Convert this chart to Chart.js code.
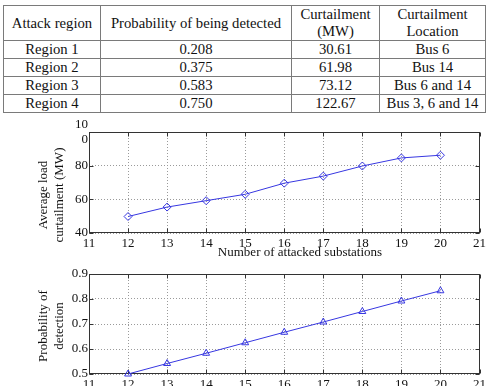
<!DOCTYPE html>
<html><head><meta charset="utf-8">
<script src="https://cdn.jsdelivr.net/npm/chart.js@4/dist/chart.umd.min.js"></script>
<style>
html,body{margin:0;padding:0;background:#fff;width:489px;height:386px;overflow:hidden;}
#tbl{position:absolute;left:3px;top:5px;width:482px;table-layout:fixed;border-collapse:collapse;font-family:"Liberation Serif","Times New Roman",serif;font-size:14.7px;color:#111;}
#tbl td,#tbl th{border:1px solid #7a7a7a;text-align:center;padding:0;font-weight:normal;line-height:17px;white-space:nowrap;overflow:visible;}
#tbl th{height:34px}
#tbl td{height:17px}
#c1{position:absolute;left:0;top:116px}
#c2{position:absolute;left:0;top:262px}
</style></head>
<body>
<table id="tbl"><colgroup><col style="width:97px"><col style="width:191px"><col style="width:88px"><col style="width:106px"></colgroup><thead><tr id="hdr"></tr></thead><tbody id="body"></tbody></table>
<canvas id="c1" width="489" height="146"></canvas>
<canvas id="c2" width="489" height="124"></canvas>
<script>
// ---- table data ----
const tableHeader = [["Attack region"], ["Probability of being detected"], ["Curtailment", "(MW)"], ["Curtailment", "Location"]];
const regions = ["Region 1", "Region 2", "Region 3", "Region 4"];
const detectProbTable = ["0.208", "0.375", "0.583", "0.750"];
const curtailTable = ["30.61", "61.98", "73.12", "122.67"];
const locations = ["Bus 6", "Bus 14", "Bus 6 and 14", "Bus 3, 6 and 14"];

// ---- chart data ----
const substations = [12, 13, 14, 15, 16, 17, 18, 19, 20];
const avgCurtailment = [49.8, 55.4, 59.2, 63.0, 69.6, 73.8, 79.8, 84.6, 86.2];
const detectionProb = [0.5, 0.542, 0.583, 0.625, 0.667, 0.708, 0.75, 0.792, 0.833];
const yTickLabels1 = {40: "40", 60: "60", 80: "80", 100: ["10", "0"]};
const yTickLabels2 = {0.5: "0.5", 0.6: "0.6", 0.7: "0.7", 0.8: "0.8", 0.9: "0.9"};
const xTitle1 = "Number of attacked substations";
const yTitle1 = ["Average load", "curtailment (MW)"];
const yTitle2 = ["Probability of", "detection"];

// build table
const hdr = document.getElementById('hdr');
tableHeader.forEach(h => { const th = document.createElement('th'); th.innerHTML = h.join('<br>'); hdr.appendChild(th); });
const body = document.getElementById('body');
regions.forEach((r, i) => {
  const tr = document.createElement('tr');
  [r, detectProbTable[i], curtailTable[i], locations[i]].forEach(v => { const td = document.createElement('td'); td.textContent = v; tr.appendChild(td); });
  body.appendChild(tr);
});

const FONT = "'Liberation Serif', 'Times New Roman', serif";
const BLUE = 'rgb(55,55,225)';

const frame = {
  id: 'frame',
  beforeDatasetsDraw(chart) {
    const {ctx, chartArea: a, scales: {x, y}} = chart;
    ctx.save();
    ctx.strokeStyle = '#333';
    ctx.lineWidth = 1;
    const L = Math.round(a.left) + 0.5, R = Math.round(a.right) - 0.5, T = Math.round(a.top) + 0.5, B = Math.round(a.bottom) - 0.5;
    ctx.strokeRect(L, T, R - L, B - T);
    ctx.beginPath();
    x.ticks.forEach(t => {
      const p = Math.round(x.getPixelForValue(t.value)) + 0.5;
      ctx.moveTo(p, B); ctx.lineTo(p, B - 4);
      ctx.moveTo(p, T); ctx.lineTo(p, T + 4);
    });
    y.ticks.forEach(t => {
      const p = Math.round(y.getPixelForValue(t.value)) + 0.5;
      ctx.moveTo(L, p); ctx.lineTo(L + 4, p);
      ctx.moveTo(R, p); ctx.lineTo(R - 4, p);
    });
    ctx.stroke();
    ctx.restore();
  },
  afterDraw(chart, args, opts) {
    const {ctx, chartArea: a} = chart;
    ctx.save();
    ctx.fillStyle = '#111';
    ctx.font = '13px ' + FONT;
    ctx.textAlign = 'center';
    ctx.textBaseline = 'middle';
    if (opts.yTitle) {
      opts.yTitle.forEach((line, i) => {
        ctx.save();
        ctx.translate(opts.yTitleX + i * 15.5, a.top + opts.yTitleDY);
        ctx.rotate(-Math.PI / 2);
        ctx.fillText(line, 0, 0);
        ctx.restore();
      });
    }
    if (opts.xTitle) {
      ctx.fillText(opts.xTitle, a.left + opts.xTitleDX, a.bottom + opts.xTitleDY);
    }
    ctx.restore();
  }
};

function makeOpts(yMin, yMax, yStep, yLabels, xAxisH, padTop, frameOpts) {
  return {
    responsive: false,
    animation: false,
    layout: {padding: {top: padTop, right: 7, left: 0, bottom: 0}},
    plugins: {legend: {display: false}, tooltip: {enabled: false}, frame: frameOpts},
    scales: {
      x: {
        type: 'linear', min: 11, max: 21,
        ticks: {stepSize: 1, padding: 3, maxRotation: 0, color: '#111', font: {family: FONT, size: 13}},
        grid: {color: '#9a9a9a', drawTicks: false},
        border: {display: false, dash: [1, 2]},
        afterFit(s) { s.height = xAxisH; }
      },
      y: {
        min: yMin, max: yMax,
        ticks: {stepSize: yStep, padding: 1, color: '#111', font: {family: FONT, size: 13, lineHeight: 1.15},
          callback: v => { const k = Math.round(v * 1000) / 1000; return yLabels[k] !== undefined ? yLabels[k] : String(k); }},
        grid: {color: '#9a9a9a', drawTicks: false},
        border: {display: false, dash: [1, 2]},
        afterFit(s) { s.width = 89; }
      }
    }
  };
}

new Chart(document.getElementById('c1'), {
  type: 'line',
  data: {datasets: [{
    data: substations.map((s, i) => ({x: s, y: avgCurtailment[i]})),
    borderColor: BLUE, borderWidth: 1, pointStyle: 'rectRot', pointRadius: 4,
    pointBackgroundColor: 'rgba(0,0,0,0)', pointBorderColor: BLUE, pointBorderWidth: 1, clip: false, tension: 0
  }]},
  options: makeOpts(40, 100, 20, yTickLabels1, 29, 16, {yTitle: yTitle1, yTitleX: 44, yTitleDY: 63, xTitle: xTitle1, xTitleDX: 211, xTitleDY: 20}),
  plugins: [frame]
});

new Chart(document.getElementById('c2'), {
  type: 'line',
  data: {datasets: [{
    data: substations.map((s, i) => ({x: s, y: detectionProb[i]})),
    borderColor: BLUE, borderWidth: 1, pointStyle: 'triangle', pointRadius: 4,
    pointBackgroundColor: 'rgba(0,0,0,0)', pointBorderColor: BLUE, pointBorderWidth: 1, clip: false, tension: 0
  }]},
  options: makeOpts(0.5, 0.9, 0.1, yTickLabels2, 12, 12, {yTitle: yTitle2, yTitleX: 44, yTitleDY: 52}),
  plugins: [frame]
});
</script>
</body></html>
